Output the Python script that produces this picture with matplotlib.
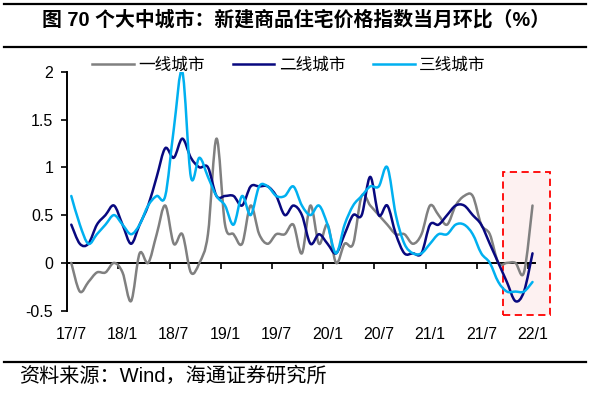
import numpy as np
import matplotlib
matplotlib.use("Agg")
import matplotlib.pyplot as plt
from matplotlib.path import Path
from matplotlib.patches import PathPatch, Rectangle
from matplotlib.lines import Line2D

plt.rcParams["font.family"] = ["Liberation Sans", "Noto Sans CJK SC"]

# monthly values, 2017/7 .. 2022/1
tier1 = [0.0, -0.3, -0.2, -0.1, -0.1, 0.0, -0.1, -0.4, 0.1, 0.0,
         0.3, 0.6, 0.2, 0.3, -0.1, 0.0, 0.3, 1.3, 0.4, 0.3,
         0.2, 0.6, 0.3, 0.2, 0.3, 0.3, 0.4, 0.1, 0.6, 0.2,
         0.4, 0.0, 0.2, 0.2, 0.7, 0.6, 0.5, 0.4, 0.3, 0.3,
         0.2, 0.3, 0.6, 0.5, 0.4, 0.6, 0.7, 0.7, 0.4, 0.3,
         0.0, 0.0, 0.0, -0.1, 0.6]
tier2 = [0.4, 0.2, 0.2, 0.4, 0.5, 0.6, 0.4, 0.2, 0.4, 0.6,
         0.9, 1.2, 1.1, 1.3, 1.1, 1.0, 1.0, 0.7, 0.7, 0.7,
         0.6, 0.8, 0.8, 0.8, 0.7, 0.5, 0.6, 0.5, 0.2, 0.3,
         0.2, 0.1, 0.3, 0.5, 0.5, 0.9, 0.5, 0.6, 0.3, 0.1,
         0.1, 0.1, 0.4, 0.4, 0.5, 0.6, 0.6, 0.5, 0.4, 0.2,
         0.0, -0.2, -0.4, -0.3, 0.1]
tier3 = [0.7, 0.4, 0.2, 0.3, 0.4, 0.5, 0.4, 0.3, 0.4, 0.6,
         0.7, 0.7, 1.4, 2.0, 0.9, 1.1, 0.9, 0.7, 0.6, 0.4,
         0.7, 0.5, 0.8, 0.8, 0.7, 0.7, 0.8, 0.6, 0.5, 0.6,
         0.4, 0.1, 0.4, 0.6, 0.7, 0.8, 0.8, 1.0, 0.5, 0.2,
         0.1, 0.1, 0.2, 0.3, 0.3, 0.4, 0.4, 0.3, 0.1, 0.0,
         -0.2, -0.3, -0.3, -0.3, -0.2]

series_names = ["一线城市", "二线城市", "三线城市"]
series_colors = ["#808080", "#08087F", "#00B0F0"]
tick_labels = ["17/7", "18/1", "18/7", "19/1", "19/7",
               "20/1", "20/7", "21/1", "21/7", "22/1"]

title = "图 70 个大中城市：新建商品住宅价格指数当月环比（%）"
source = "资料来源：Wind，海通证券研究所"


def smooth_path(x, y):
    """Excel-style smoothed line as cubic bezier segments."""
    pts = np.column_stack([x, y]).astype(float)
    ext = np.vstack([pts[:1], pts, pts[-1:]])
    verts = [pts[0]]
    codes = [Path.MOVETO]
    for i in range(len(pts) - 1):
        p0, p1, p2, p3 = ext[i], ext[i + 1], ext[i + 2], ext[i + 3]
        verts += [p1 + (p2 - p0) / 6, p2 - (p3 - p1) / 6, p2]
        codes += [Path.CURVE4] * 3
    return Path(verts, codes)


fig = plt.figure(figsize=(5.91, 3.98), dpi=100)
ax = fig.add_axes([0.1134, 0.2194, 0.7924, 0.6004])

x = np.arange(len(tier1))

# highlight box for the latest months
ax.add_patch(Rectangle((50.5, -0.55), 5.55, 1.5, facecolor="#FDF1F1",
                       edgecolor="#FF0000", linestyle=(0, (4, 2.5)), lw=1.3,
                       clip_on=False, zorder=1))

handles = []
for vals, name, col in zip([tier1, tier2, tier3], series_names, series_colors):
    ax.add_patch(PathPatch(smooth_path(x, vals), fill=False, edgecolor=col,
                           lw=1.8, joinstyle="round", capstyle="round", zorder=3))
    handles.append(Line2D([], [], color=col, lw=1.8, label=name))

ax.set_xlim(-0.5, 54.33)
ax.set_ylim(-0.5, 2.0)
ax.set_yticks([-0.5, 0, 0.5, 1, 1.5, 2])
ax.set_yticklabels(["-0.5", "0", "0.5", "1", "1.5", "2"])

for s in ["top", "right"]:
    ax.spines[s].set_visible(False)
ax.spines["bottom"].set_position(("data", 0))
ax.spines["bottom"].set_linewidth(1.4)
ax.spines["left"].set_linewidth(1.4)
ax.spines["bottom"].set_zorder(2)

# tick marks between categories, every 6 months
ax.set_xticks(np.arange(-0.5, 54, 6))
ax.set_xticklabels([])
ax.tick_params(axis="x", direction="out", length=4, width=1.2)
ax.tick_params(axis="y", direction="out", length=4, width=1.2,
               labelsize=11.5, pad=6)

# month labels sit below the plot area
sec = ax.secondary_xaxis("bottom")
sec.set_xticks(x[::6])
sec.set_xticklabels(tick_labels)
sec.tick_params(length=0, labelsize=11.5, pad=12)
sec.spines["bottom"].set_visible(False)

fig.legend(handles=handles, loc="center", bbox_to_anchor=(0.489, 0.837),
           ncol=3, frameon=False, fontsize=12, handlelength=2.5,
           handletextpad=0.25, columnspacing=1.7, borderpad=0)

fig.text(0.5, 0.95, title, ha="center", va="center", fontsize=14.3,
         fontweight="bold")
fig.text(0.032, 0.054, source, ha="left", va="center", fontsize=14.5)

for yy in [0.991, 0.881, 0.0917]:
    fig.add_artist(Line2D([0.0076, 0.9915], [yy, yy], color="black", lw=1.6))

fig.savefig("out.png", dpi=100)
plt.close(fig)
